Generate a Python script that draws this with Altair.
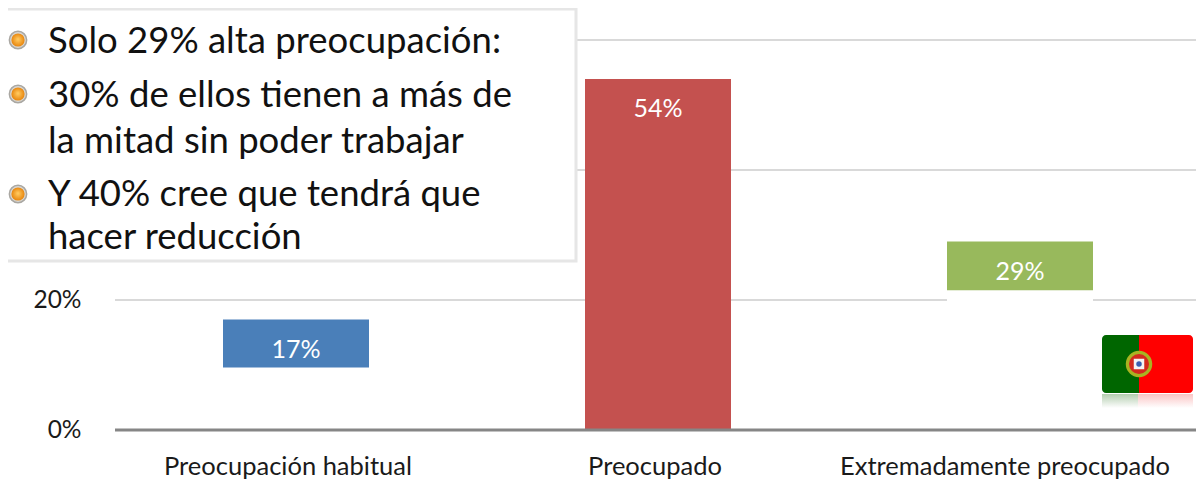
import altair as alt
import pandas as pd

FONT = "Lato"

categories = ["Preocupación habitual", "Preocupado", "Extremadamente preocupado"]
values = [17, 54, 29]
cap_base = [9.6, 0, 21.5]
colors = ["#4A7FB9", "#C4514F", "#98B95C"]
value_labels = ["17%", "54%", "29%"]
label_shift = [-8, -3, -15]
ticks = [20, 40, 60]
tick_labels = [0, 20]
box_lines = [
    "Solo 29% alta preocupación:",
    "30% de ellos tienen a más de",
    "la mitad sin poder trabajar",
    "Y 40% cree que tendrá que",
    "hacer reducción",
]
box_line_y = [42, 96, 142, 195, 238]
bullet_y = [40, 94, 194]

ORIGIN_X, ORIGIN_Y = 115, 40
PLOT_W = 1081


def sx(v):
    return alt.value(v - ORIGIN_X)


def sy(v):
    return alt.value(v - ORIGIN_Y)


df = pd.DataFrame(
    {"cat": categories, "value": values, "base": cap_base, "color": colors, "label": value_labels}
)
one = pd.DataFrame({"a": [0]})
x = alt.X(
    "cat:N",
    sort=categories,
    axis=None,
    scale=alt.Scale(
        range=[0, 1086],
        paddingInner=1 - 146 / 362,
        paddingOuter=(1 - 146 / 362) / 2,
    ),
)
y_scale = alt.Scale(domain=[0, 60], nice=False)
y_axis = alt.Axis(
    values=tick_labels,
    labelExpr="datum.value + '%'",
    title=None,
    domain=False,
    ticks=False,
    grid=False,
    labelFont=FONT,
    labelFontSize=24.5,
    labelColor="#1A1A1A",
    labelPadding=34,
)


def y_of(field):
    return alt.Y(field, scale=y_scale, axis=y_axis)


grid = (
    alt.Chart(pd.DataFrame({"t": ticks}))
    .mark_rule(color="#D9D9D9", strokeWidth=2)
    .encode(y=y_of("t:Q"), x=alt.value(0), x2=alt.value(PLOT_W))
)
baseline = (
    alt.Chart(one)
    .mark_rule(color="#868686", strokeWidth=3)
    .encode(y=y_of("a:Q"), x=alt.value(0), x2=alt.value(PLOT_W))
)
white_bars = (
    alt.Chart(df)
    .mark_bar(color="white")
    .encode(x=x, y=y_of("value:Q"), y2=alt.datum(0))
)
bars = (
    alt.Chart(df)
    .mark_bar()
    .encode(
        x=x,
        y=y_of("value:Q"),
        y2="base:Q",
        color=alt.Color("color:N", scale=None, legend=None),
    )
)
bar_text = (
    alt.Chart(df)
    .mark_text(color="white", font=FONT, fontSize=25, dy=30, baseline="middle")
    .encode(x=x, y=y_of("value:Q"), text="label:N")
)

layers = [grid, white_bars, bars, baseline, bar_text]

for cat, shift in zip(categories, label_shift):
    layers.append(
        alt.Chart(df[df["cat"] == cat])
        .mark_text(color="#1A1A1A", font=FONT, fontSize=25.5, dx=shift, baseline="middle")
        .encode(x=x, y=sy(467), text="cat:N")
    )

# Text box over the chart
layers.append(
    alt.Chart(one)
    .mark_rect(fill="white", stroke="#E6E6E6", strokeWidth=3)
    .encode(x=sx(-10), x2=sx(576), y=sy(9), y2=sy(261))
)
for line, ly in zip(box_lines, box_line_y):
    layers.append(
        alt.Chart(pd.DataFrame({"t": [line]}))
        .mark_text(color="#111111", font=FONT, fontSize=36.5, align="left", baseline="middle")
        .encode(x=sx(48), y=sy(ly), text="t:N")
    )

bullet_fill = alt.RadialGradient(
    gradient="radial",
    x1=0.5, y1=0.45, r1=0.05, x2=0.5, y2=0.5, r2=0.5,
    stops=[
        alt.GradientStop(offset=0, color="#FFC65A"),
        alt.GradientStop(offset=1, color="#E8860E"),
    ],
)
for by in bullet_y:
    layers.append(
        alt.Chart(one)
        .mark_circle(fill="#D8D6D2", stroke="#A9A7A2", strokeWidth=1.5, size=300, opacity=1)
        .encode(x=sx(18), y=sy(by))
    )
    layers.append(
        alt.Chart(one)
        .mark_circle(fill=bullet_fill, size=175, opacity=1)
        .encode(x=sx(18), y=sy(by))
    )


# Flag of Portugal with its reflection
def fade(color):
    return alt.Gradient(
        gradient="linear", x1=0, x2=0, y1=0, y2=1,
        stops=[alt.GradientStop(offset=0, color=color), alt.GradientStop(offset=1, color="#FFFFFF")],
    )


layers += [
    alt.Chart(one).mark_rect(fill=fade("#B4CEB0")).encode(x=sx(1102), x2=sx(1138), y=sy(394), y2=sy(408)),
    alt.Chart(one).mark_rect(fill=fade("#FAC4C4")).encode(x=sx(1138), x2=sx(1193), y=sy(394), y2=sy(408)),
    alt.Chart(one)
    .mark_rect(fill="#006600", cornerRadiusTopLeft=4, cornerRadiusBottomLeft=4)
    .encode(x=sx(1102), x2=sx(1140), y=sy(335), y2=sy(393)),
    alt.Chart(one)
    .mark_rect(fill="#FF0000", cornerRadiusTopRight=4, cornerRadiusBottomRight=4)
    .encode(x=sx(1139), x2=sx(1193), y=sy(335), y2=sy(393)),
]
for size, fill, shape in [
    (700, "#A9B322", "circle"),
    (400, "#D42A1E", "circle"),
    (110, "#F4F4F4", "square"),
    (30, "#3A5FB0", "circle"),
]:
    layers.append(
        alt.Chart(one)
        .mark_point(filled=True, fill=fill, size=size, shape=shape, opacity=1, strokeWidth=0)
        .encode(x=sx(1139), y=sy(364))
    )

chart = (
    alt.layer(*layers)
    .resolve_scale(color="independent")
    .properties(
        width=PLOT_W,
        height=390,
        autosize=alt.AutoSizeParams(type="none"),
        padding={"left": 107, "top": 32, "right": 0, "bottom": 50},
        background="white",
    )
    .configure_view(stroke=None)
)

chart.save("out.html", embed_options={"renderer": "svg", "actions": False})
